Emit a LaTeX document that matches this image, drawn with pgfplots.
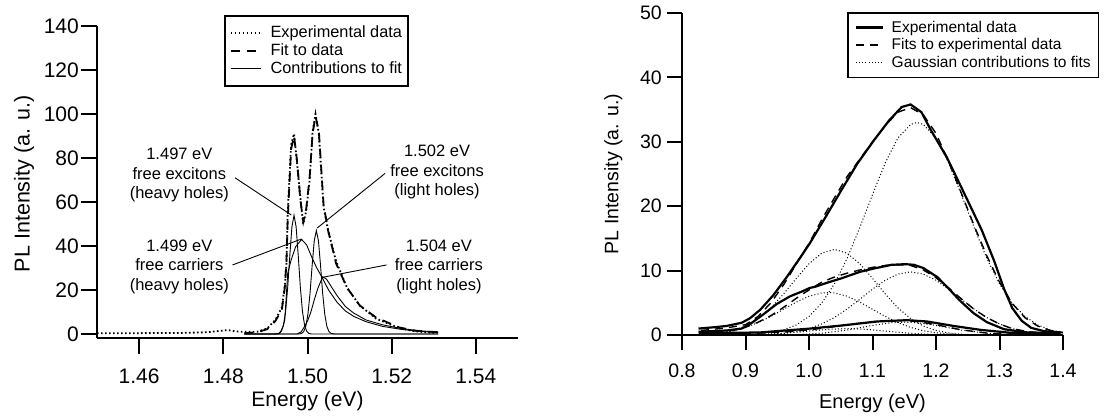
\documentclass[border=0pt]{standalone}
\usepackage{fontspec}
\setmainfont{Liberation Sans}
\usepackage{pgfplots}
\pgfplotsset{compat=1.18}
\newcommand{\fsz}[2]{\fontsize{#1}{#2}\selectfont}
\pgfplotsset{
  base/.style={
    scale only axis,
    clip=false,
    axis lines=left,
    axis line style={-, line width=2pt, black},
    every outer x axis line/.append style={-},
    every outer y axis line/.append style={-},
    tick align=outside,
    major tick length=16pt,
    tick style={line width=2pt, black},
    minor tick num=0,
    legend cell align=left,
  },
}
\begin{document}
\begin{tikzpicture}
\useasboundingbox (0pt,0pt) rectangle (1105pt,416pt);
% ---------------- left panel ----------------
\begin{axis}[base,
  at={(97pt,78pt)}, anchor=south west, width=421pt, height=312pt,
  xmin=1.45, xmax=1.55, ymin=-1.8, ymax=140,
  xtick={1.46,1.48,1.50,1.52,1.54}, xticklabels={1.46,1.48,1.50,1.52,1.54},
  ytick={0,20,40,60,80,100,120,140}, yticklabels={0,20,40,60,80,100,120,140},
  xticklabel style={font=\fsz{21}{25}, anchor=north, inner sep=0pt, yshift=-15pt},
  yticklabel style={font=\fsz{21}{25}, anchor=east, inner sep=0pt, xshift=-2pt},
  legend style={at={(0.3017,1.0353)}, anchor=north west, draw=black, line width=1.6pt,
    font=\fsz{16.3}{18}, inner xsep=5pt, inner ysep=8pt, column sep=8pt,
    nodes={inner sep=1pt, text height=12.5pt, text depth=3.5pt}},
  legend image code/.code={\draw[#1] (0pt,0pt) -- (30pt,0pt);},
]
\addplot[black, line width=1.8pt, dash pattern=on 1.6pt off 2.4pt] coordinates {
(1.4500,0.4)(1.4600,0.4)(1.4700,0.5)(1.4760,0.8)(1.4810,1.8)(1.4840,1.0)(1.4880,1.0)
(1.4904,2.5)(1.4924,6.5)(1.4939,12)(1.4946,22)(1.4950,32)(1.4953,55)(1.4961,86)
(1.4968,91)(1.4975,78)(1.4983,62)(1.4990,50)(1.4997,56)(1.5005,70)(1.5012,92)
(1.5019,100)(1.5027,91)(1.5032,76)(1.5038,58)(1.5049,47)(1.5068,33)(1.5094,21)
(1.5124,13)(1.5163,7)(1.5218,2.7)(1.5257,1.2)(1.5304,0.5)(1.5310,0.6)};
\addlegendentry{Experimental data}
\addplot[black, line width=1.8pt, dash pattern=on 9pt off 7pt] coordinates {
(1.4850,0.4)(1.4880,0.8)(1.4904,2.2)(1.4924,6)(1.4939,11)(1.4946,21)(1.4950,33)
(1.4953,52)(1.4961,84)(1.4968,90)(1.4975,79)(1.4983,61)(1.4990,51)(1.4997,57)
(1.5005,71)(1.5012,91)(1.5019,99)(1.5027,92)(1.5032,77)(1.5038,59)(1.5049,47)
(1.5068,32)(1.5094,21)(1.5124,13)(1.5163,7.5)(1.5218,3)(1.5257,1.5)(1.5304,0.9)(1.5310,0.9)};
\addlegendentry{Fit to data}
\addplot[black, line width=0.9pt] coordinates {
(1.4850,0)(1.4920,0)(1.4933,0.3)(1.4938,1.3)(1.4943,4.1)(1.4948,10.3)(1.4953,21.3)
(1.4958,35.7)(1.4963,48.7)(1.4968,54)(1.4973,48.7)(1.4978,35.7)(1.4983,21.3)
(1.4988,10.3)(1.4993,4.1)(1.4998,1.3)(1.5003,0.3)(1.5010,0)(1.5310,0)};
\addlegendentry{Contributions to fit}
\addplot[black, line width=0.9pt, forget plot] coordinates {
(1.4850,0)(1.4980,0)(1.4986,0.3)(1.4991,1.1)(1.4996,3.5)(1.5001,9.0)(1.5006,18.5)
(1.5011,31.1)(1.5016,42.4)(1.5021,47)(1.5026,42.4)(1.5031,31.1)(1.5036,18.5)
(1.5041,9.0)(1.5046,3.5)(1.5051,1.1)(1.5056,0.3)(1.5065,0)(1.5310,0)};
\addplot[black, line width=0.9pt, forget plot] coordinates {
(1.4850,0)(1.4930,0)(1.4936,1)(1.4942,3.5)(1.4946,6.4)(1.4950,18.5)(1.4953,27.6)
(1.4961,33.6)(1.4972,39.7)(1.4986,43)(1.4998,40.5)(1.5010,35)(1.5022,30)(1.5034,26)
(1.5050,20)(1.5070,14.5)(1.5090,10.5)(1.5110,8)(1.5139,5.6)(1.5178,3.5)(1.5220,2.2)
(1.5256,1.4)(1.5300,0.8)(1.5310,0.7)};
\addplot[black, line width=0.9pt, forget plot] coordinates {
(1.4850,0)(1.4975,0)(1.4985,1)(1.4995,4)(1.5001,6.4)(1.5008,10)(1.5016,15.5)
(1.5025,21)(1.5036,26)(1.5045,25)(1.5055,22)(1.5070,17.5)(1.5090,12.5)(1.5110,9.5)
(1.5139,6.4)(1.5178,4.2)(1.5220,2.6)(1.5260,1.6)(1.5300,1.0)(1.5310,0.9)};
% leader lines
\draw[black, line width=0.9pt] (axis cs:1.4828,71.0) -- (axis cs:1.49615,54.1);
\draw[black, line width=0.9pt] (axis cs:1.4822,31.4) -- (axis cs:1.49857,43.2);
\draw[black, line width=0.9pt] (axis cs:1.51842,73.0) -- (axis cs:1.50231,48.2);
\draw[black, line width=0.9pt] (axis cs:1.51879,31.4) -- (axis cs:1.50363,25.8);
% annotations
\node[align=center, font=\fsz{16.5}{19.5}] at (axis cs:1.46956,72.3) {1.497 eV\\free excitons\\(heavy holes)};
\node[align=center, font=\fsz{16.5}{19.5}] at (axis cs:1.46956,30.5) {1.499 eV\\free carriers\\(heavy holes)};
\node[align=center, font=\fsz{16.5}{19.5}] at (axis cs:1.53077,73.6) {1.502 eV\\free excitons\\(light holes)};
\node[align=center, font=\fsz{16.5}{19.5}] at (axis cs:1.53121,30.5) {1.504 eV\\free carriers\\(light holes)};
% axis labels
\node[anchor=base, font=\fsz{21}{25}] at (axis description cs:0.5,-0.221) {Energy (eV)};
\node[rotate=90, anchor=center, font=\fsz{21.5}{25}] at (axis description cs:-0.173,0.494) {PL Intensity (a. u.)};
\end{axis}
% ---------------- right panel ----------------
\begin{axis}[base,
  at={(682pt,81pt)}, anchor=south west, width=381pt, height=322pt,
  xmin=0.8, xmax=1.4, ymin=0, ymax=50,
  major tick length=15pt,
  xtick={0.8,0.9,1.0,1.1,1.2,1.3,1.4}, xticklabels={0.8,0.9,1.0,1.1,1.2,1.3,1.4},
  ytick={0,10,20,30,40,50}, yticklabels={0,10,20,30,40,50},
  xticklabel style={font=\fsz{19.5}{23}, anchor=north, inner sep=0pt, yshift=-14pt},
  yticklabel style={font=\fsz{19.5}{23}, anchor=east, inner sep=0pt, xshift=-5pt},
  legend style={at={(0.433,1.003)}, anchor=north west, draw=black, line width=1.6pt,
    font=\fsz{15.5}{17}, inner xsep=7pt, inner ysep=6pt, column sep=7pt,
    nodes={inner sep=0.75pt, text height=12.5pt, text depth=3.5pt}},
  legend image code/.code={\draw[#1] (0pt,0pt) -- (27pt,0pt);},
]
% experimental (top)
\addplot[black, line width=2.2pt] coordinates {
(0.826,1.0)(0.850,1.2)(0.870,1.4)(0.894,1.9)(0.907,2.6)(0.923,3.9)(0.944,6.2)
(0.965,9.0)(0.986,12.0)(1.001,14.2)(1.026,18.3)(1.051,22.5)(1.076,26.6)(1.102,30.2)
(1.126,33.3)(1.146,35.4)(1.160,35.8)(1.177,34.6)(1.192,31.8)(1.217,27.6)(1.242,22.5)
(1.272,16.3)(1.292,11.4)(1.307,7.2)(1.320,4.2)(1.335,2.2)(1.350,1.1)(1.370,0.6)(1.396,0.4)};
\addlegendentry{Experimental data}
\addplot[black, line width=1.4pt, dash pattern=on 8pt off 6pt] coordinates {
(0.83,0.7)(0.87,1.1)(0.90,1.6)(0.92,2.9)(0.94,5.0)(0.96,7.8)(0.98,11.0)(1.00,14.2)
(1.02,17.9)(1.04,21.3)(1.06,24.6)(1.08,27.3)(1.10,30.0)(1.12,32.5)(1.14,34.6)
(1.16,35.3)(1.18,34.2)(1.20,31.3)(1.22,26.9)(1.24,22.0)(1.26,17.0)(1.28,12.3)
(1.30,8.2)(1.32,4.9)(1.34,2.7)(1.36,1.4)(1.38,0.7)(1.40,0.4)};
\addlegendentry{Fits to experimental data}
\addplot[black, line width=1pt, dash pattern=on 1pt off 2.2pt] coordinates {
(0.84,0.13)(0.86,0.32)(0.88,0.70)(0.90,1.40)(0.92,2.55)(0.94,4.22)(0.96,6.38)
(0.98,8.80)(1.00,11.07)(1.02,12.70)(1.04,13.3)(1.06,12.70)(1.08,11.07)(1.10,8.80)
(1.12,6.38)(1.14,4.22)(1.16,2.55)(1.18,1.40)(1.20,0.70)(1.22,0.32)(1.24,0.13)
(1.26,0.05)(1.30,0.0)};
\addlegendentry{Gaussian contributions to fits}
\addplot[black, line width=1pt, dash pattern=on 1pt off 2.2pt, forget plot] coordinates {
(0.90,0.07)(0.92,0.17)(0.94,0.38)(0.96,0.80)(0.98,1.57)(1.00,2.88)(1.02,4.95)
(1.04,7.94)(1.06,11.9)(1.08,16.7)(1.10,21.8)(1.12,26.7)(1.14,30.6)(1.16,32.7)
(1.17,33)(1.18,32.7)(1.20,30.6)(1.22,26.7)(1.24,21.8)(1.26,16.7)(1.28,11.9)
(1.30,7.94)(1.32,4.95)(1.34,2.88)(1.36,1.57)(1.38,0.80)(1.40,0.38)};
% middle
\addplot[black, line width=1pt, dash pattern=on 1pt off 2.2pt, forget plot] coordinates {
(0.86,0.35)(0.88,0.66)(0.90,1.18)(0.92,1.92)(0.94,2.89)(0.96,4.0)(0.98,5.11)
(1.00,6.02)(1.02,6.53)(1.03,6.6)(1.04,6.53)(1.06,6.02)(1.08,5.11)(1.10,4.0)
(1.12,2.89)(1.14,1.92)(1.16,1.18)(1.18,0.66)(1.20,0.35)(1.22,0.17)(1.24,0.07)(1.28,0.01)};
\addplot[black, line width=1pt, dash pattern=on 1pt off 2.2pt, forget plot] coordinates {
(0.92,0.06)(0.94,0.13)(0.96,0.28)(0.98,0.55)(1.00,1.01)(1.02,1.72)(1.04,2.72)
(1.06,4.03)(1.08,5.55)(1.10,7.12)(1.12,8.50)(1.14,9.46)(1.16,9.8)(1.18,9.46)
(1.20,8.50)(1.22,7.12)(1.24,5.55)(1.26,4.03)(1.28,2.72)(1.30,1.72)(1.32,1.01)
(1.34,0.55)(1.36,0.28)(1.38,0.13)(1.40,0.06)};
\addplot[black, line width=2.2pt, forget plot] coordinates {
(0.826,0.5)(0.870,0.7)(0.894,1.0)(0.910,1.9)(0.928,3.2)(0.949,4.8)(0.970,6.0)
(0.990,6.8)(1.001,7.3)(1.010,7.5)(1.028,8.1)(1.051,8.8)(1.080,9.8)(1.101,10.3)
(1.130,10.9)(1.152,11.0)(1.165,10.9)(1.180,10.4)(1.202,9.0)(1.220,7.2)(1.237,5.4)
(1.259,3.4)(1.280,2.0)(1.307,0.9)(1.343,0.4)(1.396,0.3)};
\addplot[black, line width=1.4pt, dash pattern=on 8pt off 6pt, forget plot] coordinates {
(0.83,0.3)(0.86,0.4)(0.88,0.7)(0.90,1.2)(0.92,2.0)(0.94,3.0)(0.96,4.3)(0.98,5.7)
(1.00,7.0)(1.02,8.2)(1.04,9.0)(1.06,9.6)(1.08,10.1)(1.10,10.5)(1.12,10.8)(1.14,10.9)
(1.16,10.8)(1.18,10.1)(1.20,8.9)(1.22,7.3)(1.24,5.6)(1.26,4.0)(1.28,2.7)(1.30,1.7)
(1.32,1.0)(1.34,0.6)(1.37,0.2)(1.40,0.1)};
% bottom
\addplot[black, line width=1pt, dash pattern=on 1pt off 2.2pt, forget plot] coordinates {
(0.92,0.07)(0.96,0.25)(1.00,0.61)(1.03,0.88)(1.06,1.0)(1.09,0.88)(1.12,0.61)
(1.16,0.25)(1.20,0.07)(1.24,0.01)};
\addplot[black, line width=1pt, dash pattern=on 1pt off 2.2pt, forget plot] coordinates {
(0.98,0.07)(1.02,0.27)(1.06,0.77)(1.10,1.49)(1.13,1.91)(1.15,2.0)(1.17,1.91)
(1.20,1.49)(1.24,0.77)(1.28,0.27)(1.32,0.07)(1.36,0.01)};
\addplot[black, line width=2.2pt, forget plot] coordinates {
(0.826,0.25)(0.923,0.4)(1.002,1.0)(1.054,1.5)(1.107,2.1)(1.154,2.3)(1.186,2.1)
(1.228,1.4)(1.270,0.8)(1.317,0.35)(1.396,0.25)};
\addplot[black, line width=1.4pt, dash pattern=on 8pt off 6pt, forget plot] coordinates {
(0.83,0.1)(0.92,0.3)(0.96,0.45)(1.00,0.8)(1.03,1.15)(1.06,1.6)(1.10,2.05)(1.13,2.25)
(1.15,2.25)(1.17,2.1)(1.20,1.6)(1.24,0.8)(1.28,0.3)(1.32,0.1)(1.40,0.0)};
\node[anchor=base, font=\fsz{20}{24}] at (axis description cs:0.5,-0.2298) {Energy (eV)};
\node[rotate=90, anchor=center, font=\fsz{19.5}{24}] at (axis description cs:-0.18,0.5) {PL Intensity (a. u.)};
\end{axis}
\end{tikzpicture}
\end{document}
